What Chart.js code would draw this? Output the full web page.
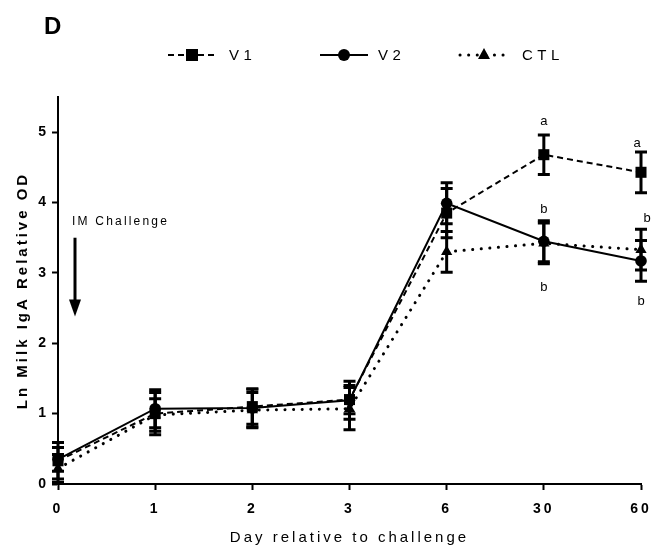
<!DOCTYPE html>
<html><head><meta charset="utf-8">
<script src="https://cdn.jsdelivr.net/npm/chart.js@4"></script>
<style>html,body{margin:0;padding:0;background:#fff}canvas{display:block}</style>
</head><body>
<canvas id="c" width="653" height="553"></canvas>
<script>
// ---- data ----
const days = ['0', '1', '2', '3', '6', '30', '60'];
const v1 = [0.33, 1.00, 1.10, 1.20, 3.85, 4.68, 4.43];
const v1Err = [0.26, 0.30, 0.25, 0.20, 0.35, 0.28, 0.29];
const v2 = [0.35, 1.07, 1.08, 1.19, 3.99, 3.45, 3.17];
const v2Err = [0.17, 0.27, 0.27, 0.27, 0.29, 0.29, 0.29];
const ctl = [0.22, 0.98, 1.05, 1.07, 3.30, 3.42, 3.33];
const ctlErr = [0.20, 0.23, 0.25, 0.30, 0.29, 0.29, 0.29];
const yTicks = [0, 1, 2, 3, 4, 5];
const seriesNames = ['V1', 'V2', 'CTL'];
// significance letters: category, y value (data units), text
const letters = [
  { day: '30', y: 5.15, text: 'a' },
  { day: '60', y: 4.84, text: 'a', dx: -4 },
  { day: '30', y: 3.90, text: 'b' },
  { day: '30', y: 2.80, text: 'b' },
  { day: '60', y: 3.78, text: 'b', dx: 6 },
  { day: '60', y: 2.59, text: 'b' }
];
const challenge = { day: '0', text: 'IM Challenge', textY: 3.73, arrowFrom: 3.50, arrowTo: 2.38 };

const FONT = "'Liberation Sans', Arial, sans-serif";
const errs = [v1Err, v2Err, ctlErr];

const spacingPlugin = {
  id: 'spacing',
  beforeLayout(chart) { chart.ctx.letterSpacing = '3px'; },
  beforeDraw(chart) { chart.ctx.letterSpacing = '3px'; }
};

const errorBars = {
  id: 'errorBars',
  beforeDatasetsDraw(chart) {
    const ctx = chart.ctx, ys = chart.scales.y;
    ctx.save();
    ctx.strokeStyle = '#000';
    ctx.lineWidth = 3;
    ctx.setLineDash([]);
    chart.data.datasets.forEach((ds, i) => {
      const meta = chart.getDatasetMeta(i);
      meta.data.forEach((pt, j) => {
        const v = ds.data[j], e = errs[i][j];
        const yt = ys.getPixelForValue(v + e), yb = ys.getPixelForValue(v - e);
        ctx.beginPath();
        ctx.moveTo(pt.x, yt); ctx.lineTo(pt.x, yb);
        ctx.moveTo(pt.x - 6, yt); ctx.lineTo(pt.x + 6, yt);
        ctx.moveTo(pt.x - 6, yb); ctx.lineTo(pt.x + 6, yb);
        ctx.stroke();
      });
    });
    ctx.restore();
  }
};

function drawMarker(ctx, style, x, y) {
  ctx.beginPath();
  if (style === 'rect') { ctx.rect(x - 6, y - 6, 12, 12); }
  else if (style === 'circle') { ctx.arc(x, y, 6, 0, Math.PI * 2); }
  else { ctx.moveTo(x, y - 7); ctx.lineTo(x + 6, y + 4); ctx.lineTo(x - 6, y + 4); ctx.closePath(); }
  ctx.fill();
}

const extras = {
  id: 'extras',
  afterDraw(chart) {
    const ctx = chart.ctx, xs = chart.scales.x, ys = chart.scales.y;
    ctx.save();
    ctx.fillStyle = '#000'; ctx.strokeStyle = '#000';
    // panel letter
    ctx.letterSpacing = '0px';
    ctx.font = `bold 24px ${FONT}`;
    ctx.textAlign = 'left'; ctx.textBaseline = 'middle';
    ctx.fillText('D', 44, 27);
    // legend
    const starts = [168, 320, 460];
    const textGap = [13, 10, 14];
    ctx.font = `15px ${FONT}`;
    ctx.letterSpacing = '4.5px';
    chart.data.datasets.forEach((ds, i) => {
      const x0 = starts[i], x1 = x0 + 48, y = 55;
      ctx.save();
      ctx.lineWidth = ds.borderWidth; ctx.setLineDash(ds.borderDash || []);
      ctx.lineCap = ds.borderCapStyle || 'butt';
      ctx.beginPath(); ctx.moveTo(x0, y); ctx.lineTo(x1, y); ctx.stroke();
      ctx.restore();
      drawMarker(ctx, ds.pointStyle, (x0 + x1) / 2, y);
      ctx.textAlign = 'left';
      ctx.fillText(seriesNames[i], x1 + textGap[i], y + 1);
    });
    // significance letters
    ctx.letterSpacing = '0px';
    ctx.font = `13px ${FONT}`;
    ctx.textAlign = 'center'; ctx.textBaseline = 'middle';
    letters.forEach(l => {
      const x = xs.getPixelForValue(days.indexOf(l.day)) + (l.dx || 0);
      ctx.fillText(l.text, x, ys.getPixelForValue(l.y));
    });
    // challenge annotation
    const cx = xs.getPixelForValue(days.indexOf(challenge.day)) + 17;
    ctx.font = `12px ${FONT}`;
    ctx.letterSpacing = '2.2px';
    ctx.textAlign = 'left';
    ctx.fillText(challenge.text, cx - 3, ys.getPixelForValue(challenge.textY));
    const ya = ys.getPixelForValue(challenge.arrowFrom), yb = ys.getPixelForValue(challenge.arrowTo);
    ctx.lineWidth = 3;
    ctx.beginPath(); ctx.moveTo(cx, ya); ctx.lineTo(cx, yb - 14); ctx.stroke();
    ctx.beginPath(); ctx.moveTo(cx - 6, yb - 17); ctx.lineTo(cx + 6, yb - 17); ctx.lineTo(cx, yb); ctx.closePath(); ctx.fill();
    ctx.restore();
  }
};

const common = { borderColor: '#000', backgroundColor: '#000', pointBackgroundColor: '#000', pointBorderColor: '#000', borderWidth: 2, tension: 0, clip: false, pointBorderWidth: 0 };

new Chart(document.getElementById('c'), {
  type: 'line',
  data: {
    labels: days,
    datasets: [
      Object.assign({ label: seriesNames[0], data: v1, borderDash: [6, 4], pointStyle: 'rect', pointRadius: 7.8 }, common),
      Object.assign({ label: seriesNames[1], data: v2, pointStyle: 'circle', pointRadius: 5.8 }, common),
      Object.assign({ label: seriesNames[2], data: ctl, borderDash: [0.1, 8.5], borderCapStyle: 'round', pointStyle: 'triangle', pointRadius: 6.5 }, common, { borderWidth: 3 })
    ]
  },
  options: {
    responsive: false,
    devicePixelRatio: 1,
    animation: false,
    layout: { padding: { top: 97, right: 12, left: 0, bottom: 0 } },
    plugins: { legend: { display: false }, tooltip: { enabled: false }, title: { display: false } },
    scales: {
      x: {
        type: 'category', offset: false,
        ticks: { color: '#000', font: { family: FONT, size: 14, weight: 'bold' }, padding: 11, maxRotation: 0, autoSkip: false },
        grid: { drawOnChartArea: false, tickLength: 6, tickWidth: 2, tickColor: '#000', offset: false },
        border: { color: '#000', width: 2 },
        title: { display: true, text: 'Day relative to challenge', color: '#000', font: { family: FONT, size: 15 }, padding: { top: 4, bottom: 6 } },
        afterFit: s => { s.height = 69; s.paddingLeft = 0; s.paddingRight = 0; }
      },
      y: {
        min: 0, max: 5.5,
        afterBuildTicks: s => { s.ticks = yTicks.map(v => ({ value: v })); },
        ticks: { color: '#000', font: { family: FONT, size: 14, weight: 'bold' }, padding: 3 },
        grid: { drawOnChartArea: false, tickLength: 6, tickWidth: 2, tickColor: '#000' },
        border: { color: '#000', width: 2 },
        title: { display: true, text: 'Ln Milk IgA Relative OD', color: '#000', font: { family: FONT, size: 15, weight: 'bold' }, padding: { top: 14, bottom: 0 } },
        afterFit: s => { s.width = 58; s.paddingTop = 0; s.paddingBottom = 0; }
      }
    }
  },
  plugins: [spacingPlugin, errorBars, extras]
});
</script>
</body></html>
